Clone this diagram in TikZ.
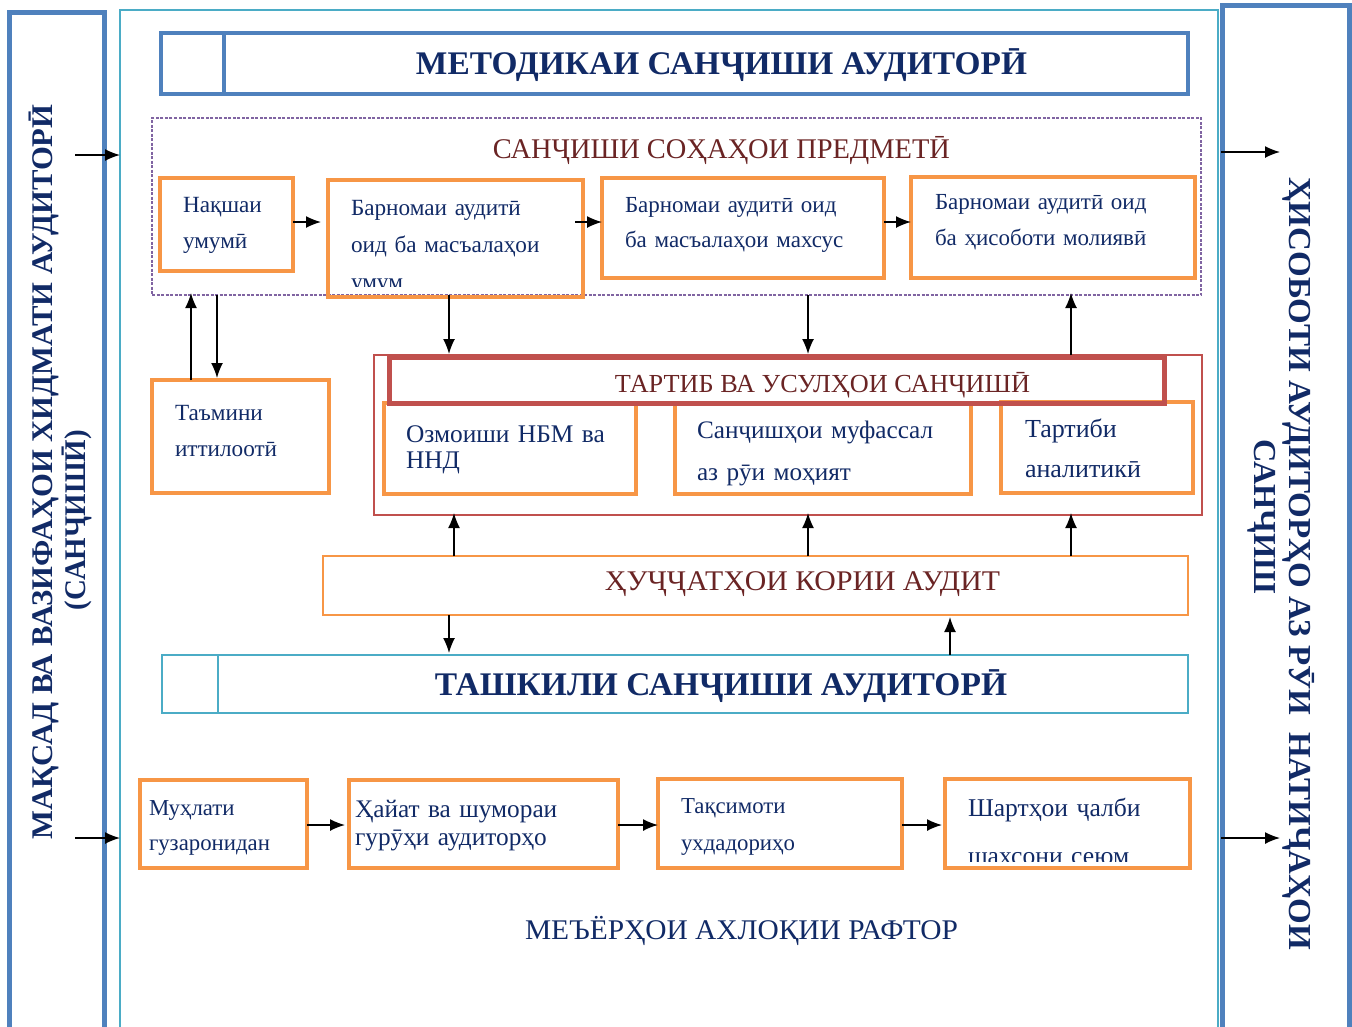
\documentclass[tikz,border=0pt]{standalone}
\usepackage{graphicx}
\usepackage{fontspec}
\setmainfont{Liberation Serif}
\usetikzlibrary{arrows.meta}
\definecolor{bbar}{HTML}{4F81BD}
\definecolor{tealf}{HTML}{4BACC6}
\definecolor{orng}{HTML}{F79646}
\definecolor{purp}{HTML}{8064A2}
\definecolor{redb}{HTML}{C0504D}
\definecolor{navyt}{HTML}{112A66}
\definecolor{maroont}{HTML}{6A2424}
\newcommand\fitw[2]{\resizebox{#1}{\height}{#2}}
\newcommand\mkbox[6]{\node[#2, minimum width={#5-#3}, minimum height={#6-#4}] (#1) at ({(#3+#5)/2},{(#4+#6)/2}) {};}
\tikzset{
  bx/.style={draw, rectangle, inner sep=0pt, outer sep=0pt},
  obox/.style={bx, draw=orng, line width=4.5pt},
  bluebar/.style={bx, draw=bbar, line width=5pt},
  framebox/.style={bx, draw=tealf, line width=2pt},
  titlebox/.style={bx, draw=bbar, line width=4.5pt},
  purpbox/.style={bx, draw=purp, line width=1.5pt, dash pattern=on 3pt off 1.5pt},
  redthin/.style={bx, draw=redb, line width=1.5pt},
  redthick/.style={bx, draw=redb, line width=5pt},
  orthin/.style={bx, draw=orng, line width=2.5pt},
  tealbox/.style={bx, draw=tealf, line width=2.5pt},
  btxt/.style={inner sep=0pt, outer sep=0pt, anchor=base west, text=navyt, align=left, text width=400pt},
  ttl/.style={inner sep=0pt, outer sep=0pt, anchor=base},
  arr/.style={-{Latex[length=15pt,width=12pt]}, line width=1.5pt, black},
}
\begin{document}
\begin{tikzpicture}[x=1pt,y=-1pt]
\useasboundingbox (0,0) rectangle (1352,1026);
\clip (0,0) rectangle (1352,1026);
% side bars and frame
\mkbox{lbar}{bluebar}{9}{12}{104}{1060}
\mkbox{rbar}{bluebar}{1222}{5}{1349}{1060}
\mkbox{frame}{framebox}{120}{10}{1218}{1060}
% title
\mkbox{mt}{titlebox}{161}{33}{1188}{94}
\coordinate (mtd) at (224,0);
\draw[bbar, line width=4.5pt] (mt.north -| mtd) -- (mt.south -| mtd);
\node[ttl, text=navyt] (mtt) at (721.5,74) {\fitw{611pt}{\bfseries\fontsize{33}{33}\selectfont МЕТОДИКАИ САНҶИШИ АУДИТОРӢ}};
% purple area
\mkbox{pb}{purpbox}{152}{118}{1201}{295}
\node[ttl, text=maroont] (pbt) at (721.5,158) {\fitw{457pt}{\fontsize{28.5}{28.5}\selectfont САНҶИШИ СОҲАҲОИ ПРЕДМЕТӢ}};
\mkbox{b1}{obox}{160}{178}{293}{271}
\mkbox{b2}{obox}{328}{180}{583}{297}
\mkbox{b3}{obox}{602}{178}{884}{278}
\mkbox{b4}{obox}{911}{177}{1195}{278}
\node[btxt, font=\fontsize{23.2}{36.5}\selectfont] (b1t) at (183,212) {Нақшаи\\умумӣ};
\begin{scope}
\clip (328,180) rectangle (583,286);
\node[btxt, font=\fontsize{23.2}{37}\selectfont] (b2t) at (351,215) {Барномаи аудитӣ\\оид ба масъалаҳои\\умум};
\end{scope}
\node[btxt, font=\fontsize{23}{35}\selectfont] (b3t) at (625,212) {Барномаи аудитӣ оид\\ба масъалаҳои махсус};
\node[btxt, font=\fontsize{23}{36}\selectfont] (b4t) at (935,209) {Барномаи аудитӣ оид\\ба ҳисоботи молиявӣ};
\coordinate (ya) at (0,222);
\draw[arr, shorten >=7pt] (b1.east |- ya) -- (b2.west |- ya);
\draw[arr] ([xshift=-8pt]b2.east |- ya) -- (b3.west |- ya);
\draw[arr] (b3.east |- ya) -- (b4.west |- ya);
% information box
\mkbox{tb}{obox}{152}{380}{329}{493}
\node[btxt, font=\fontsize{23.2}{36}\selectfont] (tbt) at (175,420) {Таъмини\\иттилоотӣ};
% red area
\mkbox{rbo}{redthin}{374}{355}{1202}{515}
\mkbox{r1}{obox}{384}{403}{636}{494}
\mkbox{r2}{obox}{675}{403}{971}{494}
\mkbox{r3}{obox}{1001}{402}{1193}{493}
\mkbox{rt}{redthick}{389}{357}{1164}{403}
\node[ttl, text=maroont] (rtt) at (822.5,392) {\fitw{415pt}{\fontsize{26}{26}\selectfont ТАРТИБ ВА УСУЛҲОИ САНҶИШӢ}};
\node[btxt, font=\fontsize{25.4}{26.5}\selectfont] (r1t) at (406,442) {Озмоиши НБМ ва\\ННД};
\node[btxt, font=\fontsize{25.2}{42}\selectfont] (r2t) at (697,438) {Санҷишҳои муфассал\\аз рӯи моҳият};
\node[btxt, font=\fontsize{26}{40}\selectfont] (r3t) at (1025,437) {Тартиби\\аналитикӣ};
% vertical connectors
\coordinate (x191) at (191,0);
\coordinate (x217) at (217,0);
\coordinate (x449) at (449,0);
\coordinate (x454) at (454,0);
\coordinate (x808) at (808,0);
\coordinate (x950) at (950,0);
\coordinate (x1071) at (1071,0);
\draw[arr, shorten >=-2pt] (tb.north -| x191) -- (pb.south -| x191);
\draw[arr] (pb.south -| x217) -- ([yshift=2pt]tb.north -| x217);
\draw[arr] (pb.south -| x449) -- ([yshift=3pt]rt.north -| x449);
\draw[arr] (pb.south -| x808) -- ([yshift=3pt]rt.north -| x808);
\draw[arr, shorten >=-2pt] (rbo.north -| x1071) -- (pb.south -| x1071);
% documents box
\mkbox{hk}{orthin}{323}{556}{1188}{615}
\node[ttl, text=maroont] (hkt) at (802.5,590) {\fitw{395pt}{\fontsize{28.5}{28.5}\selectfont ҲУҶҶАТҲОИ КОРИИ АУДИТ}};
\draw[arr, shorten >=-2pt] (hk.north -| x454) -- (rbo.south -| x454);
\draw[arr, shorten >=-2pt] (hk.north -| x808) -- (rbo.south -| x808);
\draw[arr, shorten >=-2pt] (hk.north -| x1071) -- (rbo.south -| x1071);
% organisation box
\mkbox{tk}{tealbox}{162}{655}{1188}{713}
\coordinate (tkd) at (218,0);
\draw[tealf, line width=2.5pt] (tk.north -| tkd) -- (tk.south -| tkd);
\node[ttl, text=navyt] (tkt) at (721,695) {\fitw{572pt}{\bfseries\fontsize{33}{33}\selectfont ТАШКИЛИ САНҶИШИ АУДИТОРӢ}};
\draw[arr, shorten >=2pt] (hk.south -| x449) -- (tk.north -| x449);
\draw[arr, shorten >=2pt] (tk.north -| x950) -- (hk.south -| x950);
% bottom row
\mkbox{m1}{obox}{140}{780}{307}{868}
\mkbox{m2}{obox}{349}{780}{618}{868}
\mkbox{m3}{obox}{658}{779}{902}{868}
\mkbox{m4}{obox}{945}{779}{1190}{868}
\node[btxt, font=\fontsize{22.8}{35}\selectfont] (m1t) at (149,815) {Муҳлати\\гузаронидан};
\node[btxt, font=\fontsize{25.3}{28}\selectfont] (m2t) at (355,817) {Ҳайат ва шумораи\\гурӯҳи аудиторҳо};
\node[btxt, font=\fontsize{22.8}{37}\selectfont] (m3t) at (681,813) {Тақсимоти\\ухдадориҳо};
\begin{scope}
\clip (945,779) rectangle (1190,861);
\node[btxt, font=\fontsize{25.6}{48}\selectfont] (m4t) at (968,816) {Шартҳои ҷалби\\шахсони сеюм};
\end{scope}
\coordinate (yb) at (0,825);
\draw[arr, shorten >=4pt] (m1.east |- yb) -- (m2.west |- yb);
\draw[arr] (m2.east |- yb) -- (m3.west |- yb);
\draw[arr, shorten >=3pt] (m3.east |- yb) -- (m4.west |- yb);
\node[ttl, text=navyt] (eth) at (741.5,939) {\fitw{433pt}{\fontsize{28.5}{28.5}\selectfont МЕЪЁРҲОИ АХЛОҚИИ РАФТОР}};
% side texts
\node[ttl, rotate=90, text=navyt] (lt1) at (52,472) {\fitw{735pt}{\bfseries\fontsize{30}{30}\selectfont МАҚСАД ВА ВАЗИФАҲОИ ХИДМАТИ АУДИТОРӢ}};
\node[ttl, rotate=90, text=navyt] (lt2) at (85,520) {\fitw{180pt}{\bfseries\fontsize{30}{30}\selectfont (САНҶИШӢ)}};
\node[ttl, rotate=-90, text=navyt] (rt1) at (1289,564) {\fitw{772pt}{\bfseries\fontsize{32}{32}\selectfont ҲИСОБОТИ АУДИТОРҲО АЗ РӮИ\ \ НАТИҶАҲОИ}};
\node[ttl, rotate=-90, text=navyt] (rt2) at (1254,517) {\fitw{155pt}{\bfseries\fontsize{32}{32}\selectfont САНҶИШ}};
% side arrows
\coordinate (la1) at (75,155);
\coordinate (la2) at (75,838);
\coordinate (ra1) at (1280,152);
\coordinate (ra2) at (1280,838);
\draw[arr] (la1) -- (frame.west |- la1);
\draw[arr] (la2) -- (frame.west |- la2);
\draw[arr] ([xshift=3pt]frame.east |- ra1) -- (ra1);
\draw[arr] ([xshift=3pt]frame.east |- ra2) -- (ra2);
\end{tikzpicture}
\end{document}
